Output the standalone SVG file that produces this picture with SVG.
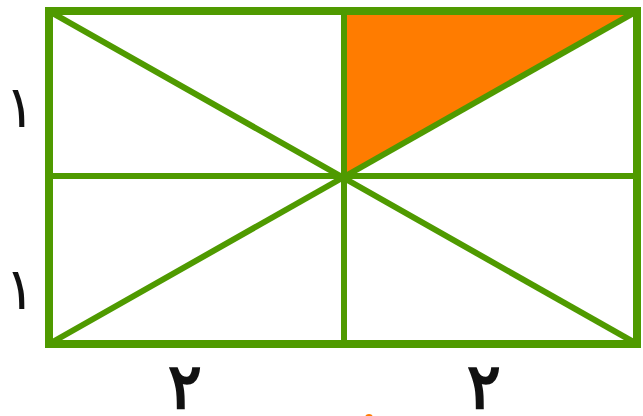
<svg xmlns="http://www.w3.org/2000/svg" width="643" height="416" viewBox="0 0 643 416">
<style>
.ln{stroke:#4f9a00;fill:none;stroke-linecap:square}
.o{stroke-width:8}
.i{stroke-width:6}
.lbl{font-family:"DejaVu Sans",sans-serif;font-size:58px;fill:#111;text-anchor:middle}
.b{font-size:62px;stroke:#111;stroke-width:2.5}
</style>
<rect width="643" height="416" fill="#fff"/>
<g id="shaded"><polygon points="343,11 637,11 343,177.5" fill="#ff7c00"/></g>
<g id="connectors">
<line class="ln i" x1="49" y1="11" x2="637" y2="344"/>
<line class="ln i" x1="49" y1="344" x2="637" y2="11"/>
<line class="ln i" x1="49" y1="176" x2="637" y2="176"/>
<line class="ln i" x1="344" y1="11" x2="344" y2="344"/>
<rect class="ln o" x="49" y="11" width="588" height="333"/>
</g>
<g id="labels">
<text class="lbl" x="20" y="127">۱</text>
<text class="lbl" x="20" y="309">۱</text>
<text class="lbl b" x="185" y="408">۲</text>
<text class="lbl b" x="484" y="408">۲</text>
</g>
<circle cx="369" cy="418" r="4" fill="#ff7c00"/>
</svg>
